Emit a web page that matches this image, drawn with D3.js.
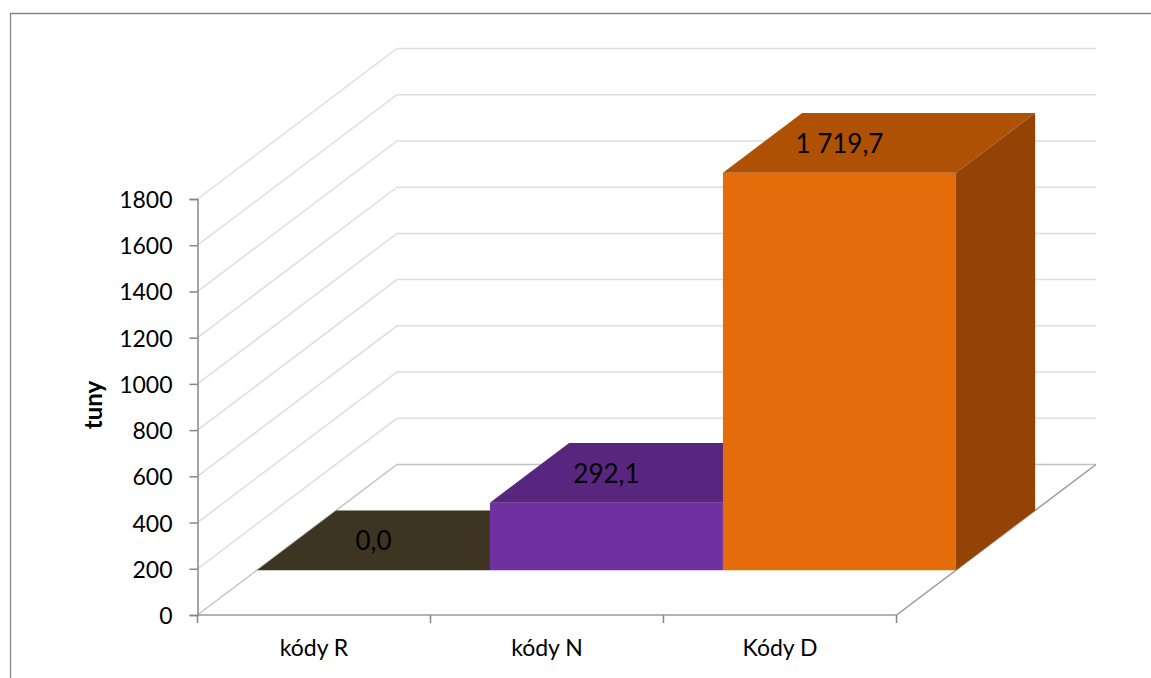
<!DOCTYPE html>
<html>
<head>
<meta charset="utf-8">
<script src="https://cdn.jsdelivr.net/npm/d3@7"></script>
<style>
body{margin:0;background:#fff;}
text{font-family:Lato,"Open Sans",sans-serif;fill:#000;}
</style>
</head>
<body>
<script>
var categories = ["kódy R","kódy N","Kódy D"];
var values = [0,292.1,1719.7];
var valueLabels = ["0,0","292,1","1 719,7"];
var yTicks = [0,200,400,600,800,1000,1200,1400,1600,1800];
var frontColors = ["#3d3521","#7030a0","#e46c0a"];
var topColors = ["#3d3521","#59267f","#ae5104"];
var sideColors = ["#3d3521","#4a1a6e","#924305"];

var svg = d3.select("body").append("svg").attr("width",1151).attr("height",678).style("display","block");

var x = d3.scaleBand().domain(categories).range([197.5,896.5]);
var y = d3.scaleLinear().domain([0,1800]).range([615,199]);
// depth: 0 = front of the floor, 1 = back wall
var dx = d3.scaleLinear().domain([0,1]).range([0,199.5]);
var dy = d3.scaleLinear().domain([0,1]).range([0,-150.5]);
var barFront = 0.298, barBack = 0.695;

function pt(px,val,depth){ return [px+dx(depth), y(val)+dy(depth)]; }
var line = d3.line();

// outer frame, runs off the page on the right and bottom
svg.append("path").attr("d",line([[10.5,678],[10.5,13.5],[1151,13.5]]))
  .attr("fill","none").attr("stroke","#868686").attr("stroke-width",1.3);

// gridlines on side wall and back wall
svg.selectAll("path.grid").data(yTicks).enter().append("path")
  .attr("class","grid")
  .attr("d",function(d){ return line([pt(x.range()[0],d,0),pt(x.range()[0],d,1),pt(x.range()[1],d,1)]); })
  .attr("fill","none")
  .attr("stroke",function(d){ return d==0 ? "#c4c4c4" : "#dedede"; })
  .attr("stroke-width",1.5);

// floor right edge and front edge
svg.append("path").attr("d",line([pt(x.range()[0],0,0),pt(x.range()[1],0,0),pt(x.range()[1],0,1)]))
  .attr("fill","none").attr("stroke","#9a9a9a").attr("stroke-width",1.5);

// bars
categories.forEach(function(c,i){
  var x0 = x(c), x1 = x(c)+x.bandwidth(), v = values[i];
  var g = svg.append("g");
  g.append("path").attr("fill",sideColors[i])
    .attr("d",line([pt(x1,0,barFront),pt(x1,0,barBack),pt(x1,v,barBack),pt(x1,v,barFront)])+"Z");
  g.append("path").attr("fill",frontColors[i])
    .attr("d",line([pt(x0,0,barFront),pt(x1,0,barFront),pt(x1,v,barFront),pt(x0,v,barFront)])+"Z");
  g.append("path").attr("fill",topColors[i])
    .attr("d",line([pt(x0,v,barFront),pt(x1,v,barFront),pt(x1,v,barBack),pt(x0,v,barBack)])+"Z");
});

// y axis
var yAxis = svg.append("g").attr("transform","translate(197.5,0)")
  .call(d3.axisLeft(y).tickValues(yTicks).tickSize(8).tickPadding(17).tickFormat(d3.format("d")));
yAxis.selectAll("path,line").attr("stroke","#868686").attr("stroke-width",1.5);
yAxis.selectAll("text").attr("font-size",23).attr("font-family",null).attr("dy","0.37em");

// x axis labels sit mid band, ticks sit on the band edges
var xAxis = svg.append("g").attr("transform","translate(0,615.5)")
  .call(d3.axisBottom(x).tickSize(0).tickPadding(24));
xAxis.select("path").remove();
xAxis.selectAll("line").remove();
xAxis.selectAll("text").attr("font-size",23).attr("font-family",null);
svg.selectAll("line.xtick").data(d3.range(categories.length+1)).enter().append("line")
  .attr("class","xtick")
  .attr("x1",function(d){ return x.range()[0]+d*x.step(); })
  .attr("x2",function(d){ return x.range()[0]+d*x.step(); })
  .attr("y1",615).attr("y2",623)
  .attr("stroke","#868686").attr("stroke-width",1.5);

// y axis title
svg.append("text").attr("transform","translate(102,405) rotate(-90)")
  .attr("text-anchor","middle").attr("font-size",24).attr("font-weight","bold").text("tuny");

// value labels on top of the bars
svg.selectAll("text.val").data(values).enter().append("text")
  .attr("class","val")
  .attr("x",function(d,i){ return x(categories[i])+x.bandwidth()/2+dx(barFront); })
  .attr("y",function(d){ return y(d)+dy((barFront+barBack)/2)+3.5; })
  .attr("text-anchor","middle").attr("dominant-baseline","middle")
  .attr("font-size",26)
  .text(function(d,i){ return valueLabels[i]; });
</script>
</body>
</html>
